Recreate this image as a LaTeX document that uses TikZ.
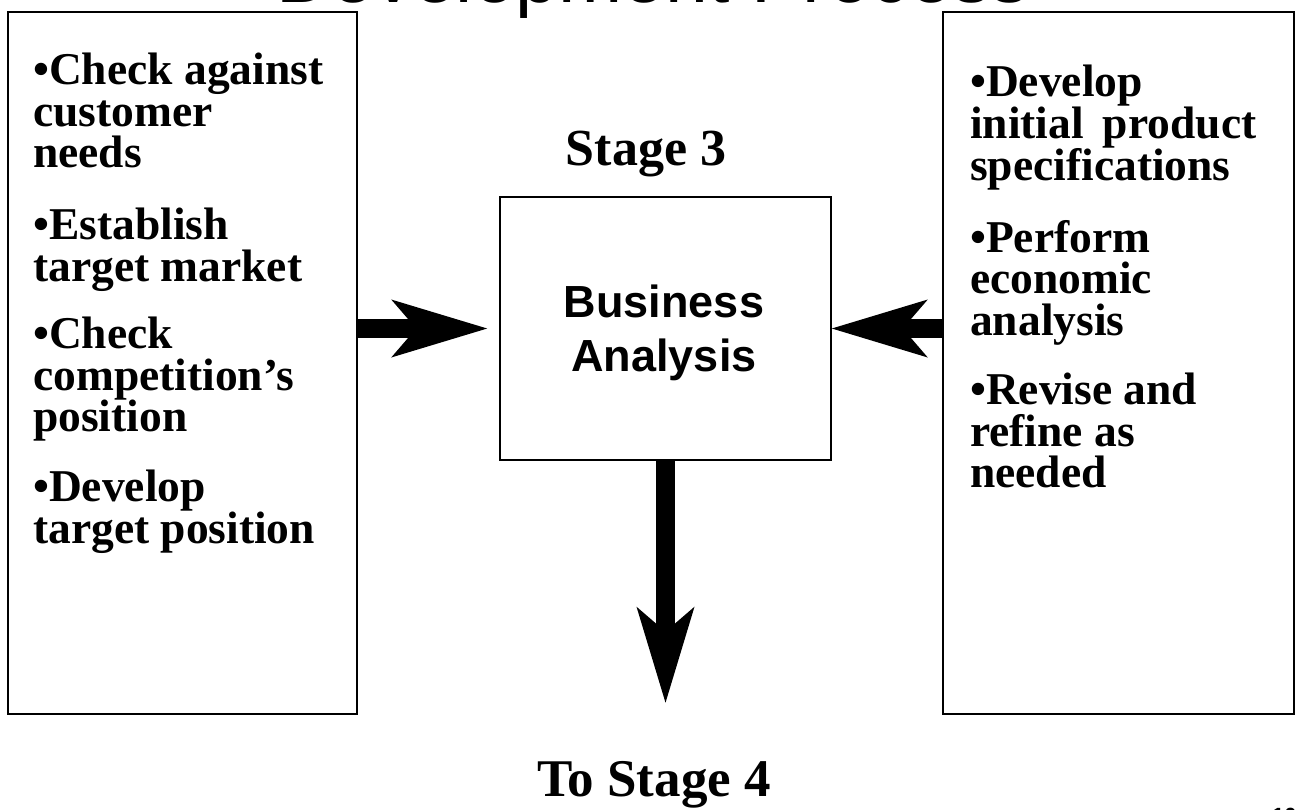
\documentclass[tikz,border=0pt]{standalone}
\usepackage{fontspec}
\setmainfont{Liberation Serif}
\setsansfont{Liberation Sans}
\usetikzlibrary{arrows.meta,positioning}
\tikzset{
  panel/.style   ={rectangle, draw=black, line width=1.6pt, inner sep=0pt,
                   minimum height=702pt},
  item/.style    ={anchor=north west, inner sep=0pt, align=left,
                   font=\fontsize{45.5}{41.5}\selectfont\bfseries},
  stage/.style   ={anchor=base, inner sep=0pt,
                   font=\fontsize{52}{52}\selectfont\bfseries},
  core/.style    ={rectangle, draw=black, line width=1.6pt,
                   minimum width=331pt, minimum height=263pt},
  coretext/.style={align=center, inner sep=0pt,
                   font=\sffamily\bfseries\fontsize{45}{54}\selectfont},
  bigarrow/.style={line width=19pt,
                   -{Stealth[length=96pt, width=58pt, inset=25pt, line width=0pt]}},
}
\begin{document}
\begin{tikzpicture}[x=1pt, y=-1pt]
    \useasboundingbox (0,0) rectangle (1296,809);
    \clip (0,0) rectangle (1296,809);
    % cut-off title and page number
    \node[anchor=base west, inner sep=0pt, font=\sffamily\fontsize{77}{77}\selectfont]
      (title) at (276,2) {Development Process};
    \node[anchor=base west, inner sep=0pt, font=\sffamily\bfseries\fontsize{22}{22}\selectfont]
      (page) at (1272,823) {10};
    % side panels
    \node[panel, minimum width=349pt] (left) at (182.5,363) {};
    \node[panel, minimum width=351pt] (right) at (1118.5,363) {};
    \node[item] (l1) at (33,53)  {•Check against\\customer\\needs};
    \node[item] (l2) at (33,208) {•Establish\\target market};
    \node[item] (l3) at (33,317) {•Check\\competition’s\\position};
    \node[item] (l4) at (33,470) {•Develop\\target position};
    \node[item] (r1) at (970,65)  {•Develop\\initial\, product\\specifications};
    \node[item] (r2) at (970,220) {•Perform\\economic\\analysis};
    \node[item] (r3) at (970,373) {•Revise and\\refine as\\needed};
    % stage 3
    \node[stage] (s3) at (646,165) {Stage 3};
    \node[core] (core) at (665.5,328.5) {};
    \node[coretext] (biz) at (664,333) {Business\\Analysis};
    \node[stage, font=\fontsize{53}{53}\selectfont\bfseries] (s4) at (654,796) {To Stage 4};
    \draw[bigarrow, shorten >=12pt] (left.east |- core.west) -- (core.west);
    \draw[bigarrow] (right.west |- core.east) -- (core.east);
    \draw[bigarrow, shorten >=58pt] (core.south) -- (core.south |- s4.north);
  \end{tikzpicture}
\end{document}
